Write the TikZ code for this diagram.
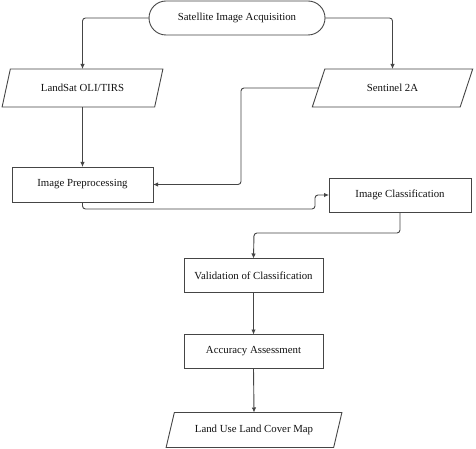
\documentclass[tikz,border=0pt]{standalone}
\usepackage{fontspec}
\setmainfont{Liberation Serif}
\usetikzlibrary{arrows.meta,shapes.geometric}
\definecolor{ln}{HTML}{454545}
\definecolor{tx}{HTML}{111111}
\tikzset{
  base/.style={draw=ln, line width=0.9pt, text=tx, font=\fontsize{10.8}{12}\selectfont, outer sep=0pt, inner sep=0pt},
  term/.style={base, rectangle, rounded corners=17pt, minimum width=176pt, minimum height=34pt},
  proc/.style={base, rectangle, minimum height=35pt},
  io/.style={base, trapezium, trapezium left angle=58, trapezium right angle=122, trapezium stretches=true, minimum height=38pt},
  conn/.style={draw=ln, line width=0.9pt, rounded corners=3pt, -{Latex[length=5pt,width=4.5pt]}}
}
\begin{document}
\begin{tikzpicture}[x=1pt,y=-1pt]
\useasboundingbox (0,0) rectangle (476,449);
\node[term] (acq) at (237,18) {Satellite Image Acquisition};
\node[io, minimum width=161pt] (land) at (82.5,88) {LandSat OLI/TIRS};
\node[io, minimum width=161pt] (sen) at (392.5,88) {Sentinel 2A};
\node[proc, minimum width=141pt] (pre) at (82.5,184.5) {Image Preprocessing};
\node[proc, minimum width=142pt, minimum height=34pt] (cls) at (400,195) {Image Classification};
\node[proc, minimum width=139pt, minimum height=34pt] (val) at (253.5,275.5) {Validation of Classification};
\node[proc, minimum width=139pt, minimum height=34pt] (acc) at (253.5,351.5) {Accuracy Assessment};
\node[io, minimum width=176pt, minimum height=35pt] (luc) at (254,430) {Land Use Land Cover Map};
\coordinate (c1) at (241,88);
\coordinate (c2) at (315,209);
\coordinate (c3) at (254,233);
\draw[conn] (acq.west) -| (land.north);
\draw[conn] (acq.east) -| (sen.north);
\draw[conn] (land.south) -- (pre.north);
\draw[conn] (sen.west) -- (c1) |- (pre.east);
\draw[conn] (pre.south) |- (c2) |- (cls.west);
\draw[conn] (cls.south) |- (c3) -- (val.north);
\draw[conn] (val.south) -- (acc.north);
\draw[conn] (acc.south) -- (luc.north);
\end{tikzpicture}
\end{document}
